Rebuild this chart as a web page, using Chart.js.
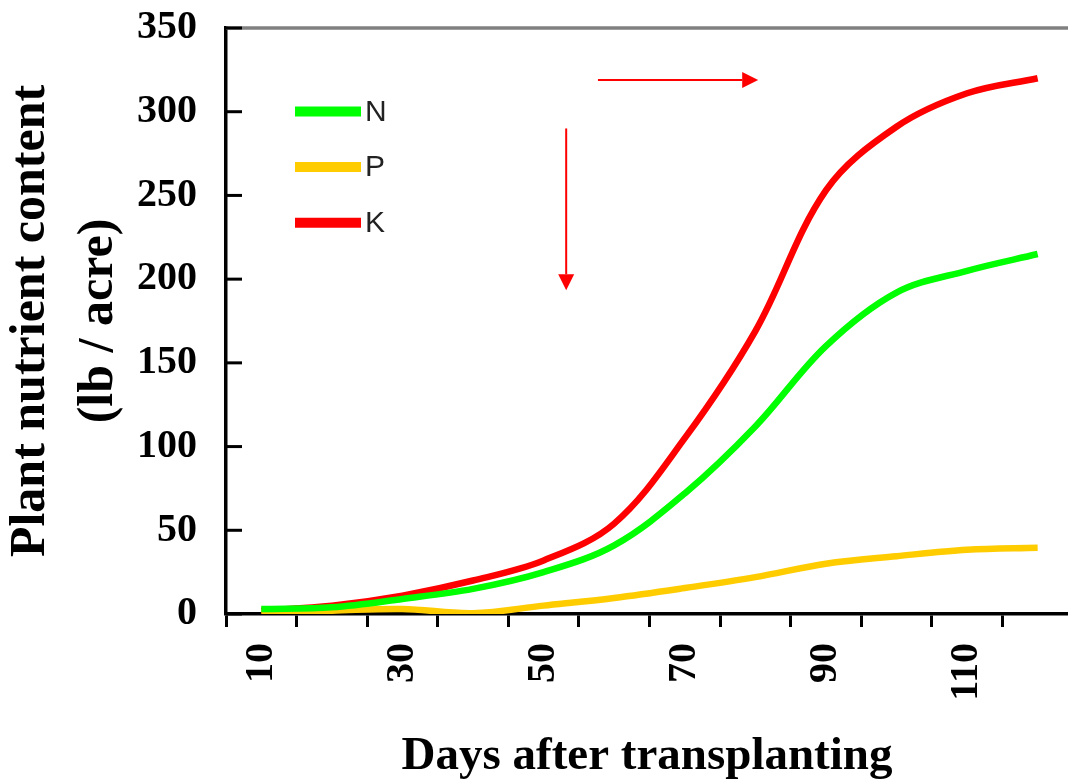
<!DOCTYPE html>
<html>
<head>
<meta charset="utf-8">
<script src="https://cdn.jsdelivr.net/npm/chart.js@4.4.1/dist/chart.umd.min.js"></script>
<style>
  html, body { margin: 0; padding: 0; background: #fff; }
  canvas { display: block; }
</style>
</head>
<body>
<canvas id="chart" width="1068" height="784"></canvas>
<script>
// data (lb / acre)
var days = [10, 20, 30, 40, 50, 60, 70, 80, 90, 100, 110, 120];
var nitrogen = [3, 4, 9, 15, 25, 41, 72, 112, 160, 192, 205, 215];
var phosphorus = [1, 2, 3, 0.5, 5, 9.6, 15.5, 22, 30, 34.5, 38.4, 39.6];
var potassium = [2, 5, 11, 20, 32, 54, 105, 169, 253, 291, 311, 320];
var seriesNames = ["N", "P", "K"];
var dayLabels = [10, 30, 50, 70, 90, 110];
var dayTicks = [5, 15, 25, 35, 45, 55, 65, 75, 85, 95, 105, 115];
var nutrientTicks = [0, 50, 100, 150, 200, 250, 300, 350];

// the two red arrows, in data units [day, lb/acre]
var arrows = [
  { from: [57.7, 318.9], to: [80.4, 318.9] },
  { from: [53.2, 290], to: [53.2, 193.4] }
];

function points(values) {
  return days.map(function (d, i) { return { x: d, y: values[i] }; });
}

var serif = "'Liberation Serif', 'Times New Roman', serif";

var decorations = {
  id: "decorations",
  afterDraw: function (chart) {
    var ctx = chart.ctx;
    var area = chart.chartArea;
    var xs = chart.scales.x;
    var ys = chart.scales.y;
    ctx.save();

    // grey top frame line
    ctx.strokeStyle = "#808080";
    ctx.lineWidth = 3.5;
    ctx.beginPath();
    ctx.moveTo(area.left, area.top);
    ctx.lineTo(area.right, area.top);
    ctx.stroke();

    // y tick marks pointing inwards
    ctx.strokeStyle = "#000";
    ctx.lineWidth = 3;
    nutrientTicks.forEach(function (v) {
      var py = ys.getPixelForValue(v);
      ctx.beginPath();
      ctx.moveTo(area.left, py);
      ctx.lineTo(area.left + 16, py);
      ctx.stroke();
    });

    // legend inside the plot
    chart.data.datasets.forEach(function (ds, i) {
      var ly = area.top + 83.5 + i * 55.6;
      ctx.strokeStyle = ds.borderColor;
      ctx.lineWidth = 10;
      ctx.beginPath();
      ctx.moveTo(area.left + 69, ly);
      ctx.lineTo(area.left + 135, ly);
      ctx.stroke();
      ctx.fillStyle = "#222";
      ctx.font = "30px 'Liberation Sans', Arial, sans-serif";
      ctx.textBaseline = "middle";
      ctx.textAlign = "left";
      ctx.fillText(ds.label, area.left + 139, ly + 1);
    });

    // red arrows
    ctx.strokeStyle = "#ff0000";
    ctx.fillStyle = "#ff0000";
    arrows.forEach(function (a) {
      var x1 = xs.getPixelForValue(a.from[0]), y1 = ys.getPixelForValue(a.from[1]);
      var x2 = xs.getPixelForValue(a.to[0]), y2 = ys.getPixelForValue(a.to[1]);
      var ang = Math.atan2(y2 - y1, x2 - x1);
      var head = 16, half = 8;
      var bx = x2 - head * Math.cos(ang), by = y2 - head * Math.sin(ang);
      ctx.lineWidth = 2;
      ctx.beginPath();
      ctx.moveTo(x1, y1);
      ctx.lineTo(bx, by);
      ctx.stroke();
      ctx.beginPath();
      ctx.moveTo(x2, y2);
      ctx.lineTo(bx + half * Math.sin(ang), by - half * Math.cos(ang));
      ctx.lineTo(bx - half * Math.sin(ang), by + half * Math.cos(ang));
      ctx.closePath();
      ctx.fill();
    });

    ctx.restore();
  }
};

new Chart(document.getElementById("chart"), {
  type: "line",
  data: {
    datasets: [
      { label: seriesNames[0], data: points(nitrogen), borderColor: "#00ff00" },
      { label: seriesNames[1], data: points(phosphorus), borderColor: "#ffcc00" },
      { label: seriesNames[2], data: points(potassium), borderColor: "#ff0000" }
    ]
  },
  options: {
    responsive: false,
    animation: false,
    layout: { padding: { top: 28, right: 0, bottom: 0, left: 0 } },
    elements: {
      point: { radius: 0 },
      line: { borderWidth: 6.5, tension: 0.35, fill: false }
    },
    plugins: {
      legend: { display: false },
      tooltip: { enabled: false }
    },
    scales: {
      x: {
        type: "linear",
        min: 5,
        max: 124.3,
        afterBuildTicks: function (scale) {
          scale.ticks = dayTicks.concat(dayLabels).sort(function (a, b) { return a - b; })
            .map(function (v) { return { value: v }; });
        },
        afterFit: function (scale) {
          scale.height = 170;
          scale.paddingLeft = 0;
          scale.paddingRight = 0;
        },
        grid: {
          drawOnChartArea: false,
          tickLength: 13,
          tickWidth: 3,
          tickColor: function (c) {
            return c.tick && dayTicks.indexOf(c.tick.value) >= 0 ? "#000" : "rgba(0,0,0,0)";
          }
        },
        border: { color: "#000", width: 3.5 },
        ticks: {
          autoSkip: false,
          minRotation: 90,
          maxRotation: 90,
          padding: 16,
          color: "#000",
          font: { family: serif, size: 40, weight: "bold" },
          callback: function (v) { return dayLabels.indexOf(v) >= 0 ? String(v) : ""; }
        },
        title: {
          display: true,
          text: "Days after transplanting",
          color: "#000",
          font: { family: serif, size: 47, weight: "bold", lineHeight: 1.15 },
          padding: { top: 0, bottom: 0 }
        }
      },
      y: {
        min: 0,
        max: 350,
        afterBuildTicks: function (scale) {
          scale.ticks = nutrientTicks.map(function (v) { return { value: v }; });
        },
        afterFit: function (scale) {
          scale.width = 226;
          scale.paddingTop = 0;
          scale.paddingBottom = 0;
        },
        grid: { drawOnChartArea: false, drawTicks: false },
        border: { color: "#000", width: 3.5 },
        ticks: {
          padding: 29,
          color: "#000",
          font: { family: serif, size: 40, weight: "bold" }
        },
        title: {
          display: true,
          text: ["Plant nutrient content", "(lb / acre)"],
          color: "#000",
          font: { family: serif, size: 50, weight: "bold", lineHeight: 1.36 },
          padding: { top: -3, bottom: 0 }
        }
      }
    }
  },
  plugins: [decorations]
});
</script>
</body>
</html>
